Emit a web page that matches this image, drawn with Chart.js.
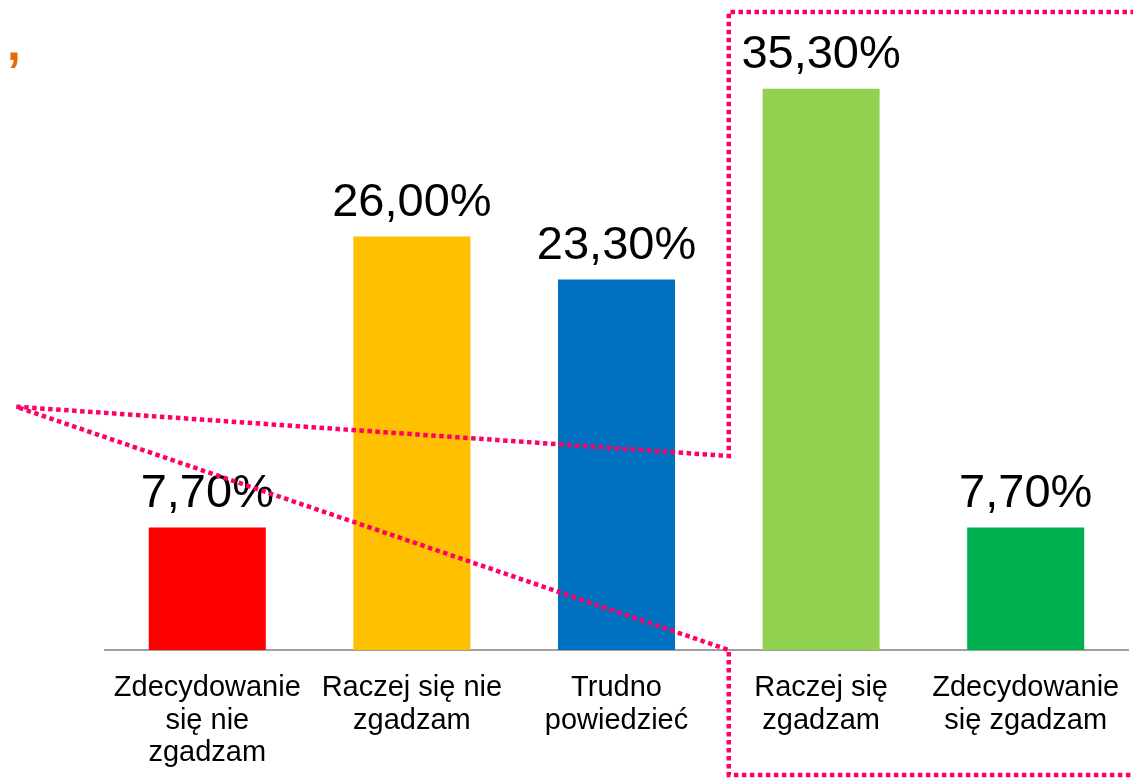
<!DOCTYPE html>
<html>
<head>
<meta charset="utf-8">
<script src="https://cdn.jsdelivr.net/npm/chart.js@4.4.1/dist/chart.umd.min.js"></script>
<style>
  html, body { margin: 0; padding: 0; background: #fff; }
  #wrap { width: 1133px; height: 779px; position: relative; }
</style>
</head>
<body>
<div id="wrap"><canvas id="answers"></canvas></div>
<script>
// odpowiedzi (kategorie) i wyniki w %
const categories = [
  ['Zdecydowanie', 'się nie', 'zgadzam'],
  ['Raczej się nie', 'zgadzam'],
  ['Trudno', 'powiedzieć'],
  ['Raczej się', 'zgadzam'],
  ['Zdecydowanie', 'się zgadzam']
];
const shares = [7.7, 26.0, 23.3, 35.3, 7.7];
const barColors = ['#FF0000', '#FFC000', '#0070C0', '#92D050', '#00B050'];

const FONT = '"Liberation Sans", Arial, sans-serif';
const PINK = '#FF0066';

// etykiety wartosci nad slupkami
const valueLabels = {
  id: 'valueLabels',
  afterDatasetsDraw(chart) {
    const ctx = chart.ctx;
    const meta = chart.getDatasetMeta(0);
    ctx.save();
    ctx.fillStyle = '#000';
    ctx.font = '47px ' + FONT;
    ctx.textAlign = 'center';
    ctx.textBaseline = 'alphabetic';
    meta.data.forEach((bar, i) => {
      const txt = shares[i].toFixed(2).replace('.', ',') + '%';
      ctx.fillText(txt, bar.x, bar.y - 21);
    });
    ctx.restore();
  }
};

// kropkowana ramka + odnosnik
const callout = {
  id: 'callout',
  afterDraw(chart) {
    const ctx = chart.ctx;
    const x = chart.scales.x;
    const y = chart.scales.y;
    const left = x.getPixelForValue(2.5) + 10;
    const top = chart.chartArea.top - 2;
    const bottom = chart.height - 4;
    const right = chart.width + 10;
    const elbow = y.getPixelForValue(12.2);
    const base = y.getPixelForValue(0);
    const tipX = 16;
    const tipY = y.getPixelForValue(15.3);

    ctx.save();
    ctx.strokeStyle = PINK;
    ctx.lineWidth = 4.5;
    ctx.setLineDash([4.5, 3.5]);
    ctx.beginPath();
    ctx.moveTo(right, top);
    ctx.lineTo(left, top);
    ctx.lineTo(left, elbow);
    ctx.lineTo(tipX, tipY);
    ctx.lineTo(left, base);
    ctx.lineTo(left, bottom);
    ctx.lineTo(right, bottom);
    ctx.stroke();
    ctx.restore();

    // pomaranczowy przecinek w rogu
    ctx.save();
    ctx.fillStyle = '#E46C0A';
    ctx.font = 'bold 50px ' + FONT;
    ctx.textAlign = 'left';
    ctx.textBaseline = 'alphabetic';
    ctx.fillText(',', 7, 60);
    ctx.restore();
  }
};

const ctx = document.getElementById('answers').getContext('2d');
const answersChart = new Chart(ctx, {
  type: 'bar',
  data: {
    labels: categories,
    datasets: [{
      data: shares,
      backgroundColor: barColors,
      borderWidth: 0,
      categoryPercentage: 1,
      barPercentage: 0.572
    }]
  },
  options: {
    responsive: true,
    maintainAspectRatio: false,
    animation: false,
    layout: { padding: { left: 105, right: 5, top: 14, bottom: 0 } },
    plugins: {
      legend: { display: false },
      tooltip: { enabled: false }
    },
    scales: {
      x: {
        grid: { display: false, drawTicks: false },
        border: { display: true, color: '#A0A0A0', width: 2 },
        ticks: {
          color: '#000',
          padding: 22,
          maxRotation: 0,
          autoSkip: false,
          font: { family: FONT, size: 29, lineHeight: 1.12 }
        },
        afterFit(scale) {
          scale.height = 129;
          scale.paddingLeft = 0;
          scale.paddingRight = 0;
        }
      },
      y: {
        display: false,
        min: 0,
        max: 40
      }
    }
  },
  plugins: [valueLabels, callout]
});
</script>
</body>
</html>
